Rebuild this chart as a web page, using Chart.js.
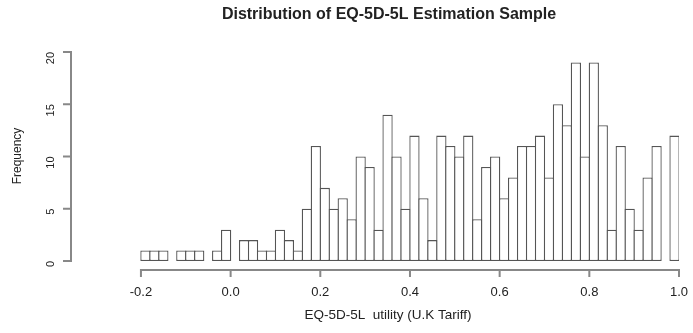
<!DOCTYPE html>
<html>
<head>
<meta charset="utf-8">
<script src="https://cdn.jsdelivr.net/npm/chart.js@4.4.1/dist/chart.umd.min.js"></script>
<style>
  html, body { margin: 0; padding: 0; background: #fff; }
  #wrap { width: 693px; height: 333px; }
</style>
</head>
<body>
<div id="wrap"><canvas id="histChart" width="693" height="333"></canvas></div>
<script>
// histogram bins: lower edge of first bin and bin width
var binStart = -0.2;
var binWidth = 0.02;
// counts, one per bin from -0.2 to 1.0
var counts = [1, 1, 1, 0, 1, 1, 1, 0, 1, 3,
              0, 2, 2, 1, 1, 3, 2, 1, 5, 11,
              7, 5, 6, 4, 10, 9, 3, 14, 10, 5,
              12, 6, 2, 12, 11, 10, 12, 4, 9, 10,
              6, 8, 11, 11, 12, 8, 15, 13, 19, 10,
              19, 13, 3, 11, 5, 3, 8, 11, 0, 12];
var xTicks = [-0.2, 0.0, 0.2, 0.4, 0.6, 0.8, 1.0];
var yTicks = [0, 5, 10, 15, 20];

var titleText = 'Distribution of EQ-5D-5L Estimation Sample';
var xTitle = 'EQ-5D-5L  utility (U.K Tariff)';
var yTitle = 'Frequency';

var points = counts.map(function (c, i) {
  return { x: binStart + binWidth * (i + 0.5), y: c };
});

var fontFam = '"Liberation Sans", Arial, Helvetica, sans-serif';
var edge = 1.3; // bar outline width

// R-style axes: lines only between first and last tick, ticks outward, titles
var rAxes = {
  id: 'rAxes',
  afterDraw: function (chart) {
    var ctx = chart.ctx;
    var xs = chart.scales.x, ys = chart.scales.y;
    var area = chart.chartArea;
    ctx.save();
    ctx.strokeStyle = '#888';
    ctx.lineWidth = 2;
    ctx.lineCap = 'square';
    ctx.beginPath();
    var yb = area.bottom;
    ctx.moveTo(xs.getPixelForValue(xTicks[0]), yb);
    ctx.lineTo(xs.getPixelForValue(xTicks[xTicks.length - 1]), yb);
    xTicks.forEach(function (v) {
      var px = xs.getPixelForValue(v);
      ctx.moveTo(px, yb);
      ctx.lineTo(px, yb + 6);
    });
    var xl = area.left;
    ctx.moveTo(xl, ys.getPixelForValue(yTicks[0]));
    ctx.lineTo(xl, ys.getPixelForValue(yTicks[yTicks.length - 1]));
    yTicks.forEach(function (v) {
      var py = ys.getPixelForValue(v);
      ctx.moveTo(xl, py);
      ctx.lineTo(xl - 7, py);
    });
    ctx.stroke();

    ctx.fillStyle = '#222';
    ctx.textAlign = 'center';
    ctx.textBaseline = 'middle';
    ctx.font = 'bold 16px ' + fontFam;
    ctx.fillText(titleText, 389, 15);
    ctx.font = '13.5px ' + fontFam;
    ctx.fillText(xTitle, 388, 315);
    ctx.translate(18, 156);
    ctx.rotate(-Math.PI / 2);
    ctx.font = '12px ' + fontFam;
    ctx.fillText(yTitle, 0, 0);
    ctx.restore();
  }
};

var config = {
  type: 'bar',
  data: {
    datasets: [{
      data: points,
      backgroundColor: '#ffffff',
      borderColor: '#555555',
      borderWidth: edge,
      borderSkipped: false,
      barPercentage: 1 + edge / 9,
      categoryPercentage: 1
    }]
  },
  options: {
    responsive: false,
    animation: false,
    layout: { padding: { top: 52, right: 14, left: 0, bottom: 0 } },
    plugins: {
      legend: { display: false },
      title: { display: false },
      tooltip: { enabled: false }
    },
    scales: {
      x: {
        type: 'linear',
        min: -0.356,
        max: 1.0,
        offset: false,
        afterBuildTicks: function (s) { s.ticks = xTicks.map(function (v) { return { value: v }; }); },
        afterFit: function (s) { s.height = 63; s.paddingLeft = 0; s.paddingRight = 0; },
        border: { display: false },
        grid: { display: false, drawTicks: true, tickLength: 6 },
        ticks: {
          color: '#222',
          font: { family: fontFam, size: 13 },
          padding: 9,
          maxRotation: 0,
          callback: function (v) { return Number(v).toFixed(1); }
        }
      },
      y: {
        min: -0.861,
        max: 20,
        afterBuildTicks: function (s) { s.ticks = yTicks.map(function (v) { return { value: v }; }); },
        afterFit: function (s) { s.width = 71; s.paddingTop = 0; s.paddingBottom = 0; },
        border: { display: false },
        grid: { display: false, drawTicks: true, tickLength: 7 },
        ticks: {
          color: '#222',
          font: { family: fontFam, size: 11 },
          padding: 13,
          minRotation: 90,
          maxRotation: 90
        }
      }
    }
  },
  plugins: [rAxes]
};

document.addEventListener('DOMContentLoaded', function () {
  var ctx = document.getElementById('histChart').getContext('2d');
  new Chart(ctx, config);
});
</script>
</body>
</html>
